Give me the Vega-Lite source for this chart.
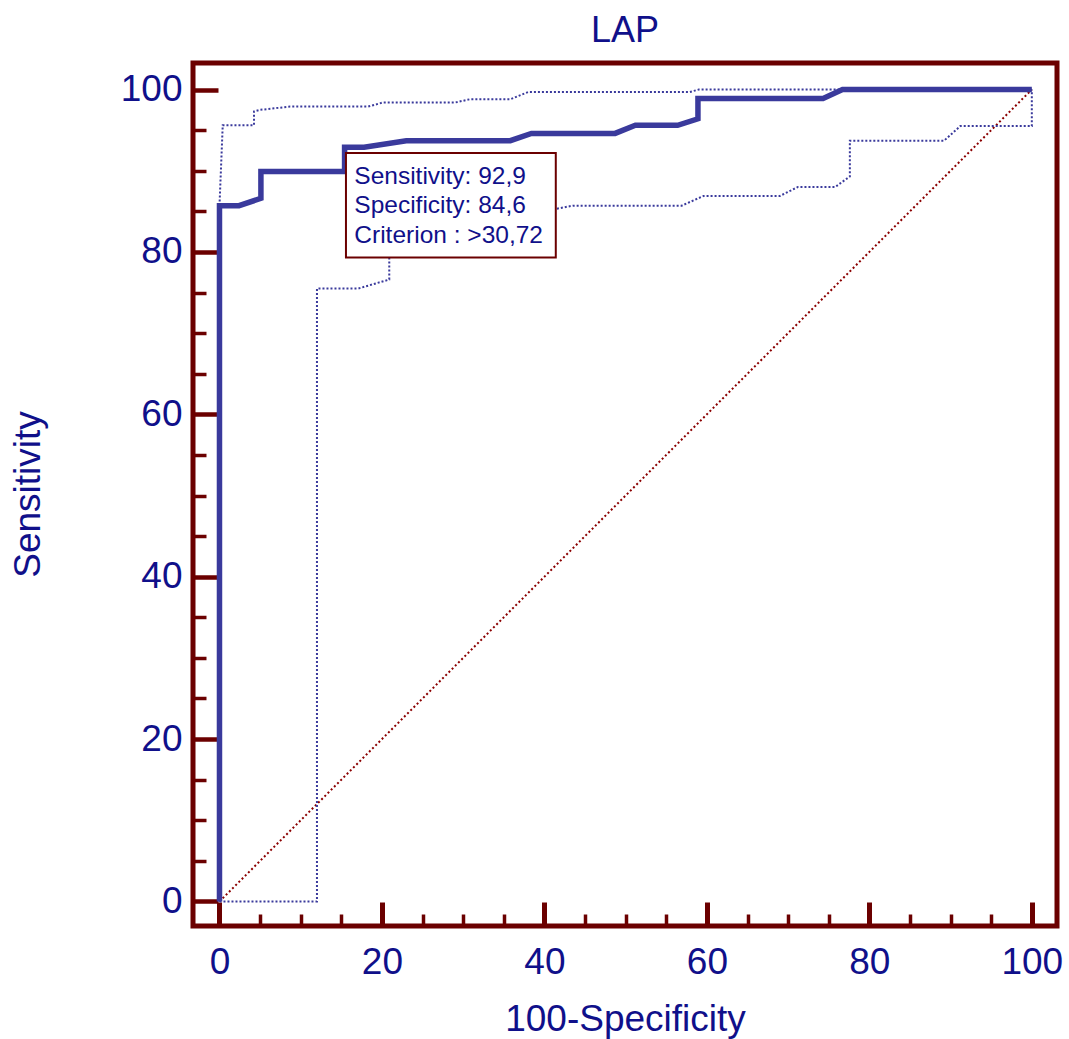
{
  "$schema": "https://vega.github.io/schema/vega-lite/v6.json",
  "width": 864,
  "height": 863,
  "autosize": "none",
  "padding": {"left": 193, "top": 63, "right": 12, "bottom": 113},
  "background": "white",
  "title": {"text": "LAP", "fontSize": 36, "font": "Liberation Sans", "fontWeight": "normal", "color": "#10108a", "anchor": "middle", "offset": 23, "baseline": "alphabetic", "dy": 38},
  "config": {
    "view": {"stroke": "#6b0000", "strokeWidth": 5},
    "axis": {"grid": false, "domain": false, "labelFont": "Liberation Sans", "titleFont": "Liberation Sans", "labelColor": "#10108a", "titleColor": "#10108a", "tickColor": "#6b0000", "labelFontSize": 37, "titleFontSize": 37, "titleFontWeight": "normal"}
  },
  "datasets": {
    "curves": [
      {"s": "roc", "i": 0, "fpr": 0, "sens": 0},
      {"s": "roc", "i": 1, "fpr": 0, "sens": 85.7},
      {"s": "roc", "i": 2, "fpr": 2.4, "sens": 85.7},
      {"s": "roc", "i": 3, "fpr": 5.1, "sens": 86.6},
      {"s": "roc", "i": 4, "fpr": 5.1, "sens": 89.9},
      {"s": "roc", "i": 5, "fpr": 15.4, "sens": 89.9},
      {"s": "roc", "i": 6, "fpr": 15.4, "sens": 92.9},
      {"s": "roc", "i": 7, "fpr": 17.8, "sens": 92.9},
      {"s": "roc", "i": 8, "fpr": 23.0, "sens": 93.7},
      {"s": "roc", "i": 9, "fpr": 35.8, "sens": 93.7},
      {"s": "roc", "i": 10, "fpr": 38.4, "sens": 94.6},
      {"s": "roc", "i": 11, "fpr": 48.7, "sens": 94.6},
      {"s": "roc", "i": 12, "fpr": 51.2, "sens": 95.6},
      {"s": "roc", "i": 13, "fpr": 56.4, "sens": 95.6},
      {"s": "roc", "i": 14, "fpr": 58.9, "sens": 96.4},
      {"s": "roc", "i": 15, "fpr": 58.9, "sens": 98.9},
      {"s": "roc", "i": 16, "fpr": 74.3, "sens": 98.9},
      {"s": "roc", "i": 17, "fpr": 76.7, "sens": 100},
      {"s": "roc", "i": 18, "fpr": 100, "sens": 100},
      {"s": "upper", "i": 0, "fpr": 0, "sens": 0},
      {"s": "upper", "i": 1, "fpr": 0, "sens": 85.7},
      {"s": "upper", "i": 2, "fpr": 0.4, "sens": 95.6},
      {"s": "upper", "i": 3, "fpr": 4.25, "sens": 95.6},
      {"s": "upper", "i": 4, "fpr": 4.25, "sens": 97.3},
      {"s": "upper", "i": 5, "fpr": 5.0, "sens": 97.5},
      {"s": "upper", "i": 6, "fpr": 8.7, "sens": 97.9},
      {"s": "upper", "i": 7, "fpr": 18.3, "sens": 97.9},
      {"s": "upper", "i": 8, "fpr": 20.1, "sens": 98.4},
      {"s": "upper", "i": 9, "fpr": 29.0, "sens": 98.4},
      {"s": "upper", "i": 10, "fpr": 30.8, "sens": 98.8},
      {"s": "upper", "i": 11, "fpr": 35.8, "sens": 98.8},
      {"s": "upper", "i": 12, "fpr": 38.0, "sens": 99.7},
      {"s": "upper", "i": 13, "fpr": 57.9, "sens": 99.7},
      {"s": "upper", "i": 14, "fpr": 59.0, "sens": 100},
      {"s": "upper", "i": 15, "fpr": 100, "sens": 100},
      {"s": "lower", "i": 0, "fpr": 0, "sens": 0},
      {"s": "lower", "i": 1, "fpr": 12.0, "sens": 0},
      {"s": "lower", "i": 2, "fpr": 12.0, "sens": 75.5},
      {"s": "lower", "i": 3, "fpr": 17.1, "sens": 75.5},
      {"s": "lower", "i": 4, "fpr": 20.9, "sens": 76.6},
      {"s": "lower", "i": 5, "fpr": 20.9, "sens": 84.5},
      {"s": "lower", "i": 6, "fpr": 41.4, "sens": 85.3},
      {"s": "lower", "i": 7, "fpr": 43.5, "sens": 85.7},
      {"s": "lower", "i": 8, "fpr": 56.9, "sens": 85.7},
      {"s": "lower", "i": 9, "fpr": 59.6, "sens": 86.9},
      {"s": "lower", "i": 10, "fpr": 69.0, "sens": 86.9},
      {"s": "lower", "i": 11, "fpr": 71.2, "sens": 88.0},
      {"s": "lower", "i": 12, "fpr": 75.8, "sens": 88.0},
      {"s": "lower", "i": 13, "fpr": 77.6, "sens": 89.3},
      {"s": "lower", "i": 14, "fpr": 77.6, "sens": 93.7},
      {"s": "lower", "i": 15, "fpr": 89.2, "sens": 93.7},
      {"s": "lower", "i": 16, "fpr": 91.2, "sens": 95.5},
      {"s": "lower", "i": 17, "fpr": 100, "sens": 95.5},
      {"s": "lower", "i": 18, "fpr": 100, "sens": 100},
      {"s": "diag", "i": 0, "fpr": 0, "sens": 0},
      {"s": "diag", "i": 1, "fpr": 100, "sens": 100}
    ],
    "criterion": [
      {"sensitivity": "92,9", "specificity": "84,6", "criterion": ">30,72"}
    ]
  },
  "layer": [
    {
      "data": {"name": "curves"},
      "transform": [{"filter": "datum.s === 'diag'"}],
      "mark": {"type": "line", "color": "#8b0000", "strokeWidth": 2, "strokeDash": [2, 2.5]},
      "encoding": {
        "x": {"field": "fpr", "type": "quantitative", "scale": {"domain": [-3.26, 103.1], "nice": false, "zero": false},
          "axis": {"orient": "bottom", "values": [0, 20, 40, 60, 80, 100], "ticks": false, "tickSize": 0, "labelPadding": 47, "labelBaseline": "alphabetic", "labelFlush": false, "title": "100-Specificity", "titleY": 104, "titleBaseline": "alphabetic", "titleAnchor": "middle"}},
        "y": {"field": "sens", "type": "quantitative", "scale": {"domain": [-3.02, 103.27], "nice": false, "zero": false},
          "axis": {"orient": "left", "values": [0, 20, 40, 60, 80, 100], "ticks": false, "tickSize": 0, "labelPadding": 11, "labelAlign": "right", "labelBaseline": "middle", "labelFlush": false, "title": "Sensitivity", "titleX": -154, "titleY": 431, "titleAngle": -90, "titleBaseline": "alphabetic", "titleAlign": "center"}},
        "order": {"field": "i"}
      }
    },
    {
      "data": {"name": "curves"},
      "transform": [{"filter": "datum.s === 'upper'"}],
      "mark": {"type": "line", "color": "#3a3a9c", "strokeWidth": 2, "strokeDash": [2, 2]},
      "encoding": {
        "x": {"field": "fpr", "type": "quantitative",
          "axis": {"orient": "bottom", "values": [0, 20, 40, 60, 80, 100], "labels": false, "ticks": true, "tickSize": -24, "tickWidth": 5, "title": null}},
        "y": {"field": "sens", "type": "quantitative",
          "axis": {"orient": "left", "values": [0, 20, 40, 60, 80, 100], "labels": false, "ticks": true, "tickSize": -25, "tickWidth": 4.5, "title": null}},
        "order": {"field": "i"}
      }
    },
    {
      "data": {"name": "curves"},
      "transform": [{"filter": "datum.s === 'lower'"}],
      "mark": {"type": "line", "color": "#3a3a9c", "strokeWidth": 2, "strokeDash": [2, 2]},
      "encoding": {
        "x": {"field": "fpr", "type": "quantitative",
          "axis": {"orient": "bottom", "values": [5, 10, 15, 25, 30, 35, 45, 50, 55, 65, 70, 75, 85, 90, 95], "labels": false, "ticks": true, "tickSize": -12, "tickWidth": 3.5, "title": null}},
        "y": {"field": "sens", "type": "quantitative",
          "axis": {"orient": "left", "values": [5, 10, 15, 25, 30, 35, 45, 50, 55, 65, 70, 75, 85, 90, 95], "labels": false, "ticks": true, "tickSize": -13, "tickWidth": 3.5, "title": null}},
        "order": {"field": "i"}
      }
    },
    {
      "data": {"name": "curves"},
      "transform": [{"filter": "datum.s === 'roc'"}],
      "mark": {"type": "line", "color": "#3a3a9c", "strokeWidth": 5.5, "strokeJoin": "miter"},
      "encoding": {
        "x": {"field": "fpr", "type": "quantitative", "axis": null},
        "y": {"field": "sens", "type": "quantitative", "axis": null},
        "order": {"field": "i"}
      }
    },
    {
      "data": {"name": "criterion"},
      "mark": {"type": "rect", "fill": "white", "stroke": "#6b0000", "strokeWidth": 2},
      "encoding": {
        "x": {"datum": 15.57, "type": "quantitative", "axis": null},
        "x2": {"datum": 41.4},
        "y": {"datum": 92.2, "type": "quantitative", "axis": null},
        "y2": {"datum": 79.3}
      }
    },
    {
      "data": {"name": "criterion"},
      "mark": {"type": "text", "align": "left", "baseline": "alphabetic", "font": "Liberation Sans", "fontSize": 24.5, "lineHeight": 29.7, "color": "#10108a"},
      "encoding": {
        "x": {"datum": 16.6, "type": "quantitative", "axis": null},
        "y": {"datum": 88.4, "type": "quantitative", "axis": null},
        "text": {"value": ["Sensitivity: 92,9", "Specificity: 84,6", "Criterion : >30,72"]}
      }
    }
  ],
  "resolve": {"axis": {"x": "independent", "y": "independent"}}
}
